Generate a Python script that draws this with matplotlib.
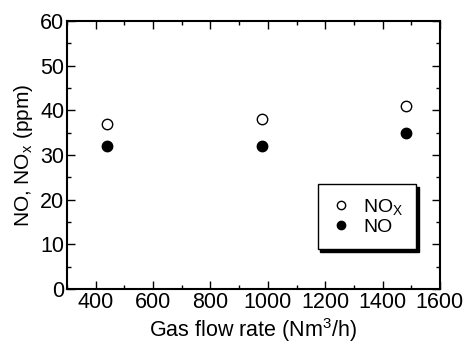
import matplotlib
matplotlib.use("Agg")
import matplotlib.pyplot as plt
from matplotlib.ticker import MultipleLocator

plt.rcParams['font.family'] = ['Liberation Sans', 'DejaVu Sans']
plt.rcParams['mathtext.fontset'] = 'custom'
plt.rcParams['mathtext.rm'] = 'Liberation Sans'
plt.rcParams['mathtext.it'] = 'Liberation Sans'

flow = [440, 980, 1480]
nox = [37, 38, 41]
no = [32, 32, 35]

fig = plt.figure(figsize=(4.69, 3.43), dpi=100)
ax = fig.add_axes([0.143, 0.157, 0.795, 0.782])

ax.plot(flow, nox, 'o', mfc='white', mec='black', mew=1.0, ms=7.5, ls='none', label=r'NO$_\mathrm{X}$')
ax.plot(flow, no, 'o', mfc='black', mec='black', ms=7.5, ls='none', label='NO')

ax.set_xlim(300, 1600)
ax.set_ylim(0, 60)
ax.xaxis.set_major_locator(MultipleLocator(200))
ax.xaxis.set_minor_locator(MultipleLocator(100))
ax.yaxis.set_major_locator(MultipleLocator(10))
ax.yaxis.set_minor_locator(MultipleLocator(5))
ax.tick_params(which='both', direction='in', top=True, right=True, labelsize=15.5, width=1.0)
ax.tick_params(which='major', length=6, pad=2)
ax.tick_params(which='minor', length=3)
for s in ax.spines.values():
    s.set_linewidth(1.5)

ax.set_xlabel(r'Gas flow rate (Nm$^3$/h)', fontsize=15.5, labelpad=2)
ax.set_ylabel(r'NO, NO$_\mathrm{x}$ (ppm)', fontsize=15, labelpad=4)

leg = ax.legend(loc='upper right', bbox_to_anchor=(0.936, 0.392), fontsize=14,
                fancybox=False, shadow={'color': 'black', 'alpha': 1},
                edgecolor='black', framealpha=1, handletextpad=0.6,
                borderpad=0.65, labelspacing=0.1, handlelength=1.1, borderaxespad=0,
                markerscale=0.8)
leg.get_frame().set_linewidth(1.0)

fig.savefig('out.png', dpi=100)
